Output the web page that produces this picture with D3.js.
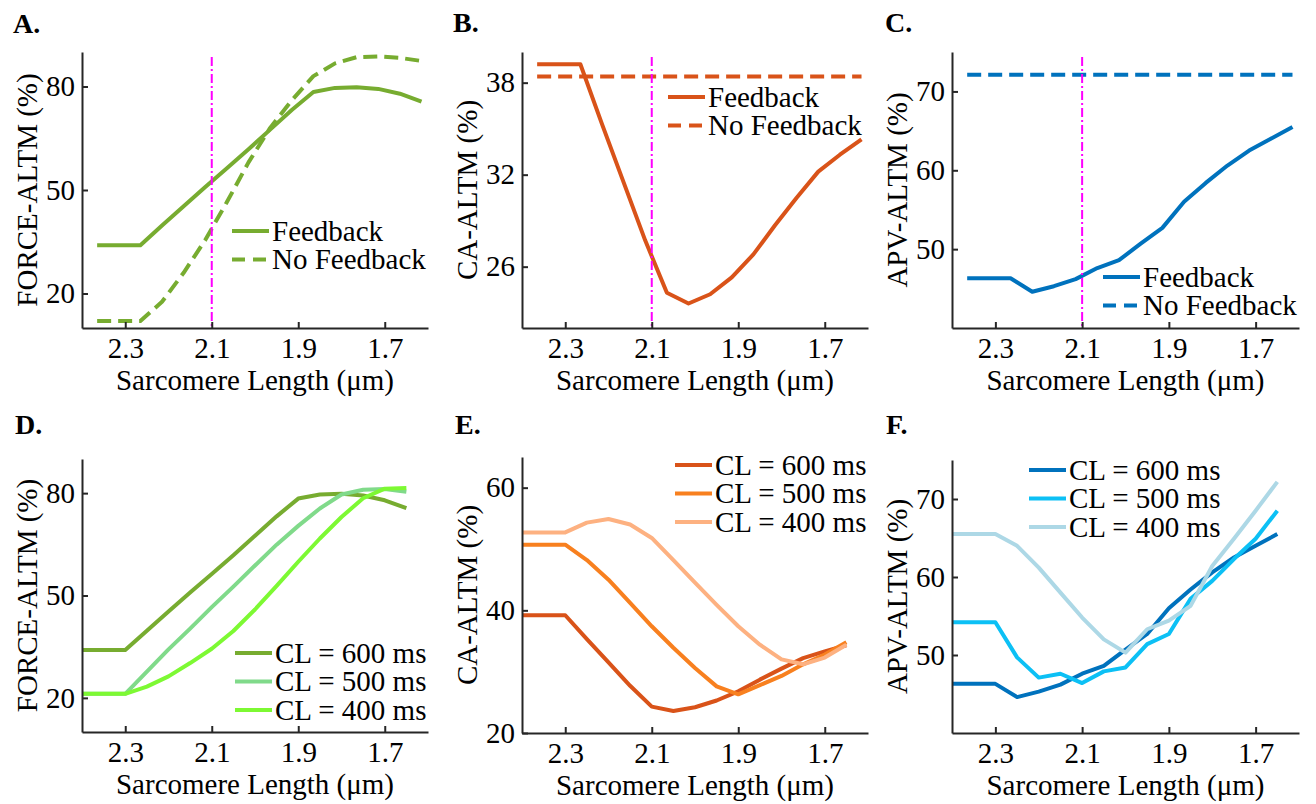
<!DOCTYPE html>
<html>
<head>
<meta charset="utf-8">
<script src="https://cdn.jsdelivr.net/npm/d3@7"></script>
<style>
body { margin: 0; background: #fff; }
svg text { font-family: "Liberation Serif", "Times New Roman", serif; fill: #000; }
</style>
</head>
<body>
<svg id="fig"></svg>
<script>
const W = 1316, H = 804;

// sarcomere lengths (um) sampled in each row
const xTop = [2.365, 2.265, 2.215, 2.165, 2.115, 2.065, 2.015, 1.965, 1.915, 1.865, 1.815, 1.765, 1.715, 1.665, 1.615];
const xBottom = [2.4, 2.3, 2.25, 2.2, 2.15, 2.1, 2.05, 2.0, 1.95, 1.9, 1.85, 1.8, 1.75, 1.7, 1.65];
const xTicks = [2.3, 2.1, 1.9, 1.7];
const markerLength = 2.1;

// ALTM values (%)
const forceFeedback = [34, 34, 39.7, 45.3, 50.9, 56.3, 61.8, 67.5, 73.2, 78.4, 79.6, 79.8, 79.3, 77.9, 75.6];
const forceNoFeedback = [12, 12, 17.6, 26, 35.5, 46.5, 58, 68, 76, 83, 86.7, 88.5, 88.7, 88.3, 87.4];
const caFeedback = [39.2, 39.2, 35.3, 31.5, 27.7, 24.3, 23.6, 24.2, 25.3, 26.8, 28.7, 30.5, 32.2, 33.3, 34.3];
const caNoFeedback = [38.4, 38.4, 38.4, 38.4, 38.4, 38.4, 38.4, 38.4, 38.4, 38.4, 38.4, 38.4, 38.4, 38.4, 38.4];
const apvFeedback = [46.3, 46.3, 44.6, 45.3, 46.2, 47.6, 48.6, 50.7, 52.7, 56.0, 58.4, 60.6, 62.5, 64.0, 65.5];
const apvNoFeedback = [72.1, 72.1, 72.1, 72.1, 72.1, 72.1, 72.1, 72.1, 72.1, 72.1, 72.1, 72.1, 72.1, 72.1, 72.1];

const force500 = [21.2, 21.2, 27.7, 34.2, 40.3, 46.6, 52.6, 58.8, 64.9, 70.4, 75.5, 79.6, 81.0, 81.2, 80.4];
const force400 = [21.2, 21.2, 23.3, 26.3, 30.2, 34.4, 39.6, 45.9, 52.8, 59.9, 66.7, 73.0, 78.5, 81.3, 81.5];
const ca500 = [50.7, 50.7, 48.2, 45.0, 41.2, 37.4, 33.9, 30.6, 27.6, 26.3, 27.8, 29.3, 31.2, 32.8, 34.8];
const ca400 = [52.7, 52.7, 54.3, 54.9, 54.0, 51.8, 48.2, 44.5, 40.9, 37.4, 34.4, 32.0, 31.2, 32.3, 34.4];
const apv500 = [54.2, 54.2, 49.7, 47.1, 47.6, 46.4, 47.9, 48.4, 51.4, 52.7, 57.2, 59.5, 62.3, 64.9, 68.5];
const apv400 = [65.5, 65.5, 64.0, 61.2, 58.0, 54.8, 52.0, 50.3, 53.3, 54.4, 56.3, 61.4, 64.9, 68.5, 72.2];

const feedbackNames = ["Feedback", "No Feedback"];
const cycleNames = ["CL = 600 ms", "CL = 500 ms", "CL = 400 ms"];

const green = "#77AC30", orange = "#D95319", blue = "#0072BD";

const panels = [
    { tag: "A.", tagX: 13, tagY: 33, left: 82, top: 52, right: 428, bottom: 328, xs: xTop,
      yDomain: [10, 90], yTicks: [20, 50, 80], yLabel: "FORCE-ALTM (%)", marker: true, legend: [232, 231],
      series: [{ values: forceFeedback, color: green }, { values: forceNoFeedback, color: green, dash: "14,7" }],
      names: feedbackNames },
    { tag: "B.", tagX: 453, tagY: 32, left: 522, top: 52, right: 868, bottom: 328, xs: xTop,
      yDomain: [22, 40], yTicks: [26, 32, 38], yLabel: "CA-ALTM (%)", marker: true, legend: [668, 97],
      series: [{ values: caFeedback, color: orange }, { values: caNoFeedback, color: orange, dash: "14,7" }],
      names: feedbackNames },
    { tag: "C.", tagX: 885, tagY: 32, left: 952, top: 52, right: 1299, bottom: 328, xs: xTop,
      yDomain: [40, 75], yTicks: [50, 60, 70], yLabel: "APV-ALTM (%)", marker: true, legend: [1103, 277],
      series: [{ values: apvFeedback, color: blue }, { values: apvNoFeedback, color: blue, dash: "14,7" }],
      names: feedbackNames },
    { tag: "D.", tagX: 15, tagY: 434, left: 82, top: 459, right: 428, bottom: 732, xs: xBottom,
      yDomain: [10, 90], yTicks: [20, 50, 80], yLabel: "FORCE-ALTM (%)", marker: false, legend: [235, 653],
      series: [{ values: forceFeedback, color: green }, { values: force500, color: "#80DA8A" }, { values: force400, color: "#7DF933" }],
      names: cycleNames },
    { tag: "E.", tagX: 455, tagY: 434, left: 522, top: 457, right: 868, bottom: 733, xs: xBottom,
      yDomain: [20, 65], yTicks: [20, 40, 60], yLabel: "CA-ALTM (%)", marker: false, legend: [675, 465],
      series: [{ values: caFeedback, color: orange }, { values: ca500, color: "#F8801F" }, { values: ca400, color: "#FDB181" }],
      names: cycleNames },
    { tag: "F.", tagX: 886, tagY: 434, left: 952, top: 460, right: 1299, bottom: 733, xs: xBottom,
      yDomain: [40, 75], yTicks: [50, 60, 70], yLabel: "APV-ALTM (%)", marker: false, legend: [1029, 470],
      series: [{ values: apvFeedback, color: blue }, { values: apv500, color: "#0CC0F5" }, { values: apv400, color: "#ADD8E6" }],
      names: cycleNames }
];

const svg = d3.select("#fig").attr("width", W).attr("height", H);

function styleAxis(g) {
    g.attr("font-family", null).attr("font-size", null);
    g.select(".domain").attr("stroke", "#262626").attr("stroke-width", 2);
    g.selectAll(".tick line").attr("stroke", "#262626").attr("stroke-width", 2);
    g.selectAll(".tick text").style("font-size", "29px").attr("fill", "#000");
}

panels.forEach(p => {
    const x = d3.scaleLinear().domain([2.4, 1.6]).range([p.left, p.right]);
    const y = d3.scaleLinear().domain(p.yDomain).range([p.bottom, p.top]);
    const g = svg.append("g");

    const line = d3.line()
        .x((d, i) => x(p.xs[i]))
        .y(d => y(d));

    p.series.forEach(s => {
        g.append("path")
            .datum(s.values)
            .attr("d", line)
            .attr("fill", "none")
            .attr("stroke", s.color)
            .attr("stroke-width", 4)
            .attr("stroke-linejoin", "round")
            .attr("stroke-dasharray", s.dash || null);
    });

    if (p.marker) {
        g.append("line")
            .attr("x1", x(markerLength)).attr("x2", x(markerLength))
            .attr("y1", y.range()[1] + 5).attr("y2", y.range()[0])
            .attr("stroke", "#FF00FF")
            .attr("stroke-width", 2)
            .attr("stroke-dasharray", "9,3,2,3");
    }

    g.append("g")
        .attr("transform", "translate(0," + p.bottom + ")")
        .call(d3.axisBottom(x).tickValues(xTicks).tickFormat(d3.format(".1f"))
            .tickSizeInner(-6).tickSizeOuter(0).tickPadding(9))
        .call(styleAxis);

    g.append("g")
        .attr("transform", "translate(" + p.left + ",0)")
        .call(d3.axisLeft(y).tickValues(p.yTicks).tickSizeInner(-6).tickSizeOuter(0).tickPadding(7))
        .call(styleAxis);

    g.append("text")
        .attr("x", (p.left + p.right) / 2)
        .attr("y", p.bottom + 62)
        .attr("text-anchor", "middle")
        .style("font-size", "29px")
        .text("Sarcomere Length (\u03bcm)");

    g.append("text")
        .attr("transform", "translate(" + (p.left - 45) + "," + ((p.top + p.bottom) / 2) + ") rotate(-90)")
        .attr("text-anchor", "middle")
        .style("font-size", "29px")
        .text(p.yLabel);

    g.append("text")
        .attr("x", p.tagX)
        .attr("y", p.tagY)
        .style("font-size", "28px")
        .style("font-weight", "bold")
        .text(p.tag);

    const leg = g.append("g").attr("transform", "translate(" + p.legend[0] + "," + p.legend[1] + ")");
    p.series.forEach((s, i) => {
        leg.append("line")
            .attr("x1", 0).attr("x2", 37)
            .attr("y1", i * 28.5).attr("y2", i * 28.5)
            .attr("stroke", s.color)
            .attr("stroke-width", 4)
            .attr("stroke-dasharray", s.dash ? "13,8" : null);
        leg.append("text")
            .attr("x", 40)
            .attr("y", i * 28.5 + 9.5)
            .style("font-size", "29px")
            .text(p.names[i]);
    });
});
</script>
</body>
</html>
